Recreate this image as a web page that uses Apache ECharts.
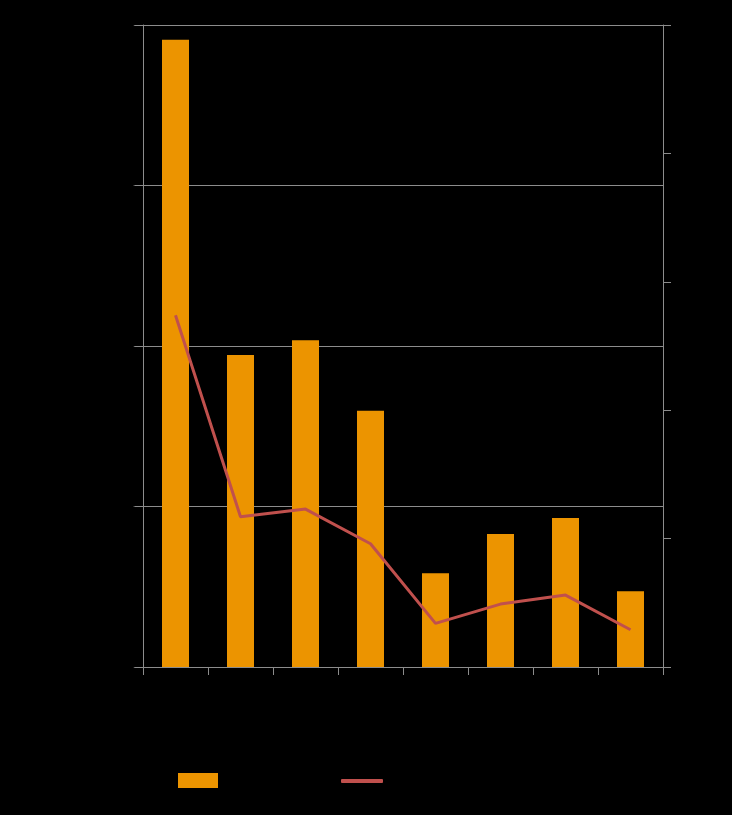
<!DOCTYPE html>
<html>
<head>
<meta charset="utf-8">
<script src="https://cdn.jsdelivr.net/npm/echarts@6/dist/echarts.min.js"></script>
<style>
html,body{margin:0;padding:0;background:#000;}
#chart{width:732px;height:815px;}
</style>
</head>
<body>
<div id="chart"></div>
<script>
var categories = ['Category 1','Category 2','Category 3','Category 4','Category 5','Category 6','Category 7','Category 8'];
var barValues = [97.7, 48.6, 50.9, 39.9, 14.6, 20.7, 23.2, 11.8];
var lineValues = [27.4, 11.7, 12.3, 9.6, 3.4, 4.9, 5.6, 2.9];
var leftTicks = {min: 0, max: 100, interval: 25};
var rightTicks = {min: 0, max: 50, interval: 10};
var barName = 'Series 1';
var lineName = 'Series 2';

var chart = echarts.init(document.getElementById('chart'), null, {renderer: 'canvas'});
var axisGray = '#8c8c8c';
chart.setOption({
  backgroundColor: '#000',
  animation: false,
  grid: {left: 143, right: 69, top: 25, bottom: 148, containLabel: false},
  legend: [
    {data: [{name: barName, icon: 'rect'}], left: 178, top: 773, padding: 0,
     itemWidth: 40, itemHeight: 15, textStyle: {color: '#000', fontSize: 12}},
    {data: [{name: lineName, icon: 'roundRect'}], left: 341, top: 775, padding: 0,
     itemWidth: 42, itemHeight: 4, textStyle: {color: '#000', fontSize: 12}}
  ],
  xAxis: {
    type: 'category',
    data: categories,
    boundaryGap: true,
    axisLine: {show: true, lineStyle: {color: axisGray, width: 1}},
    axisTick: {show: true, interval: 0, length: 8, alignWithLabel: false, lineStyle: {color: axisGray}},
    axisLabel: {interval: 0, color: '#000', fontSize: 12}
  },
  yAxis: [
    {
      type: 'value', position: 'left',
      min: leftTicks.min, max: leftTicks.max, interval: leftTicks.interval,
      axisLine: {show: true, lineStyle: {color: axisGray}},
      axisTick: {show: true, length: 10, lineStyle: {color: axisGray}},
      splitLine: {show: true, lineStyle: {color: axisGray, width: 1}},
      axisLabel: {color: '#000', fontSize: 12}
    },
    {
      type: 'value', position: 'right',
      min: rightTicks.min, max: rightTicks.max, interval: rightTicks.interval,
      axisLine: {show: true, lineStyle: {color: axisGray}},
      axisTick: {show: true, length: 8, lineStyle: {color: axisGray}},
      splitLine: {show: false},
      axisLabel: {color: '#000', fontSize: 12}
    }
  ],
  series: [
    {
      name: barName, type: 'bar', yAxisIndex: 0,
      data: barValues, barWidth: 27,
      itemStyle: {color: '#EC9400'}
    },
    {
      name: lineName, type: 'line', yAxisIndex: 1,
      data: lineValues, symbol: 'none',
      lineStyle: {color: '#C0504D', width: 3},
      itemStyle: {color: '#C0504D'}
    }
  ]
});
</script>
</body>
</html>
